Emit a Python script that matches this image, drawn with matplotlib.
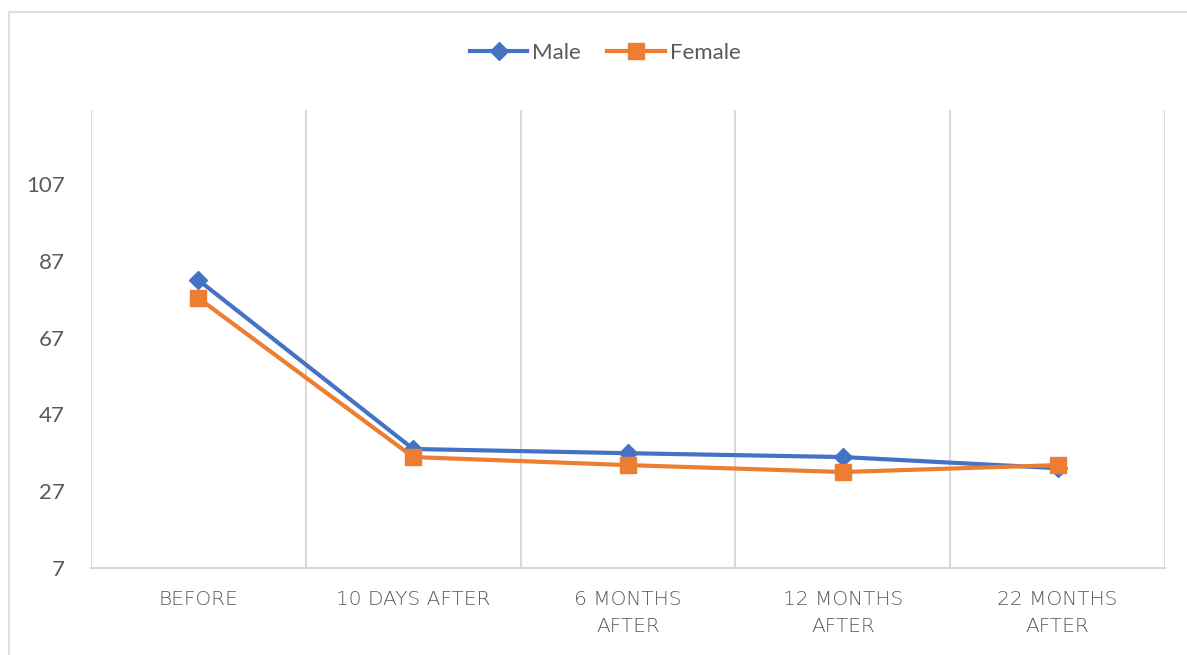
import matplotlib.pyplot as plt
from matplotlib.patches import Rectangle

categories = ['BEFORE', '10 DAYS AFTER', '6 MONTHS\nAFTER', '12 MONTHS\nAFTER', '22 MONTHS\nAFTER']
male = [82, 38, 36.9, 35.9, 33]
female = [77.3, 35.9, 33.8, 32, 33.8]
yticks = [7, 27, 47, 67, 87, 107]

plt.rcParams['font.family'] = ['Lato', 'DejaVu Sans']
grey = '#595959'
grid = '#D9D9D9'

fig = plt.figure(figsize=(11.87, 6.55), dpi=100)
fig.patches.append(Rectangle((9 / 1187, -0.1), 1.2, 1 - 12 / 655 + 0.1, transform=fig.transFigure,
                             fill=False, ec=grid, lw=1.2))

ax = fig.add_axes([91 / 1187, 1 - 568 / 655, (1165 - 91) / 1187, (568 - 110) / 655])
x = list(range(len(categories)))

ax.plot(x, male, color='#4472C4', lw=3, marker='D', ms=9, label='Male', zorder=3)
ax.plot(x, female, color='#ED7D31', lw=3, marker='s', ms=11, label='Female', zorder=4)

ax.set_xlim(-0.5, len(categories) - 0.5)
ax.set_ylim(7, 126.3)
ax.set_yticks(yticks)
ax.set_yticklabels([str(v) for v in yticks], fontsize=16, color=grey)
ax.set_xticks(x)
ax.set_xticklabels(categories, fontsize=14.5, color=grey, linespacing=1.55,
                   family=['DejaVu Sans'], fontweight='light')
for lab in ax.get_xticklabels():
    lab.set_verticalalignment('top')

for b in [i - 0.5 for i in range(len(categories) + 1)]:
    ax.axvline(b, color=grid, lw=1.5, zorder=1)

for s in ['top', 'right', 'left']:
    ax.spines[s].set_visible(False)
ax.spines['bottom'].set_color(grid)
ax.spines['bottom'].set_linewidth(1.5)
ax.tick_params(axis='both', length=0)
ax.tick_params(axis='y', pad=19)
ax.tick_params(axis='x', pad=16)

fig.legend(loc='center', bbox_to_anchor=(605 / 1187, 1 - 53 / 655), ncol=2, frameon=False,
           fontsize=16, labelcolor=grey, handlelength=2.6, columnspacing=1.2, handletextpad=0.2)

fig.savefig('out.png', dpi=100)
